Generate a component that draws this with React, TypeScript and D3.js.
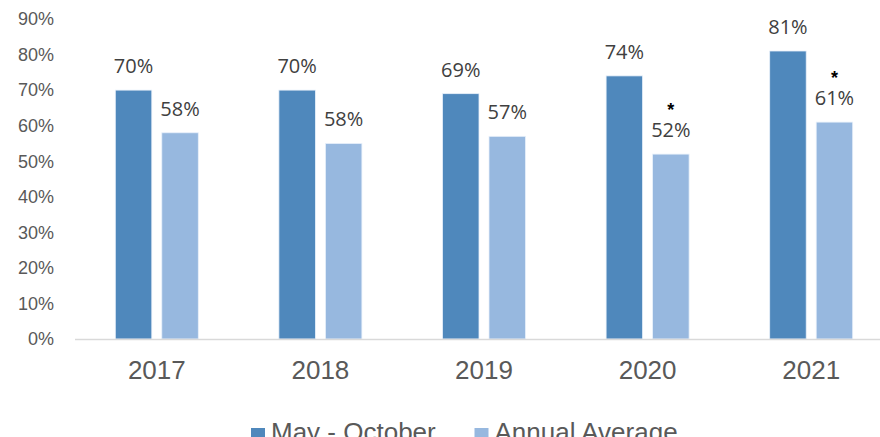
import React from "react";
import * as d3 from "d3";

const years = ["2017", "2018", "2019", "2020", "2021"];
const seriesNames = ["May - October", "Annual Average"];
const mayOct = [70, 70, 69, 74, 81];
const annual = [58, 55, 57, 52, 61];
const mayOctLabels = ["70%", "70%", "69%", "74%", "81%"];
const annualLabels = ["58%", "58%", "57%", "52%", "61%"];
const annualStar = [false, false, false, true, true];
const yTicks = [0, 10, 20, 30, 40, 50, 60, 70, 80, 90];
const colors = ["#4f88bc", "#97b8df"];

const W = 880;
const H = 437;

export default function App() {
  const y = d3.scaleLinear().domain([0, 90]).range([339, 19]);
  const x = d3.scaleBand<string>().domain(years).range([75, 893]).padding(0);
  const bw = x.bandwidth();
  const groupW = 83;
  const sub = d3
    .scaleBand<string>()
    .domain(seriesNames)
    .range([(bw - groupW) / 2, (bw + groupW) / 2])
    .paddingInner(0.215)
    .paddingOuter(0);
  const values = [mayOct, annual];
  const labels = [mayOctLabels, annualLabels];

  return (
    <svg
      width={W}
      height={H}
      style={{ position: "absolute", left: 0, top: 0, background: "#fff" }}
    >
      {yTicks.map((t) => (
        <text
          key={t}
          x={54}
          y={y(t)}
          dy="0.35em"
          textAnchor="end"
          fontFamily="Liberation Sans, Arial, sans-serif"
          fontSize={18}
          fill="#595959"
        >
          {t}%
        </text>
      ))}
      {years.map((yr, i) =>
        seriesNames.map((s, j) => {
          const v = values[j][i];
          const bx = (x(yr) as number) + (sub(s) as number);
          const sw = sub.bandwidth();
          return (
            <g key={yr + s}>
              <rect
                x={bx}
                y={y(v)}
                width={sw}
                height={y(0) - y(v)}
                fill={colors[j]}
                stroke="#e8f0fa"
                strokeWidth={0.8}
              />
              <text
                x={bx + sw / 2}
                y={y(v) - 17}
                textAnchor="middle"
                fontFamily="Open Sans, Noto Sans, sans-serif"
                fontSize={20}
                fill="#404040"
              >
                {labels[j][i]}
              </text>
              {j === 1 && annualStar[i] && (
                <text
                  x={bx + sw / 2}
                  y={y(v) - 38}
                  textAnchor="middle"
                  fontFamily="Liberation Sans, Arial, sans-serif"
                  fontWeight="bold"
                  fontSize={18}
                  fill="#000"
                >
                  *
                </text>
              )}
            </g>
          );
        })
      )}
      <line x1={75} x2={880} y1={339.5} y2={339.5} stroke="#d9d9d9" strokeWidth={1.5} />
      {years.map((yr) => (
        <text
          key={yr}
          x={(x(yr) as number) + bw / 2}
          y={379}
          textAnchor="middle"
          fontFamily="Liberation Sans, Arial, sans-serif"
          fontSize={26}
          fill="#595959"
        >
          {yr}
        </text>
      ))}
      {seriesNames.map((s, j) => {
        const lx = [251, 474.5][j];
        return (
          <g key={s}>
            <rect x={lx} y={428} width={14} height={14} fill={colors[j]} />
            <text
              x={lx + 20}
              y={441}
              fontFamily="Liberation Sans, Arial, sans-serif"
              fontSize={26}
              fill="#595959"
            >
              {s}
            </text>
          </g>
        );
      })}
    </svg>
  );
}
